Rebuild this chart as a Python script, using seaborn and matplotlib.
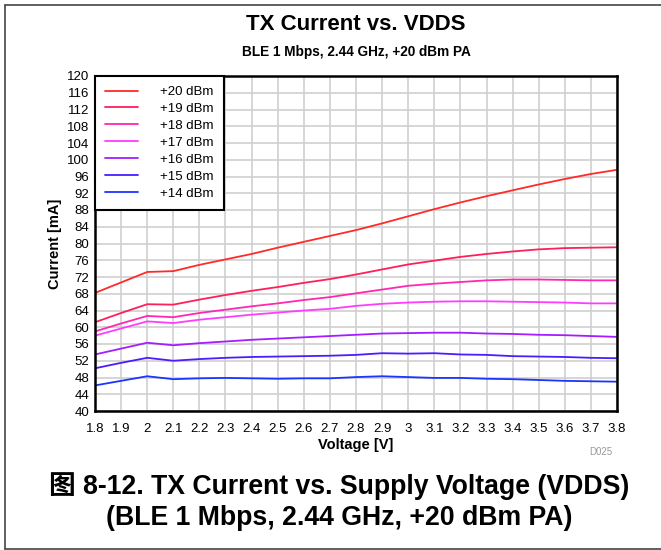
import matplotlib
matplotlib.use("Agg")
import matplotlib.pyplot as plt
from matplotlib.lines import Line2D
import numpy as np
import pandas as pd
import seaborn as sns

# ---- data ----
voltage = [1.8, 1.9, 2.0, 2.1, 2.2, 2.3, 2.4, 2.5, 2.6, 2.7, 2.8,
           2.9, 3.0, 3.1, 3.2, 3.3, 3.4, 3.5, 3.6, 3.7, 3.8]

p20 = [68.2, 70.7, 73.2, 73.4, 74.9, 76.2, 77.5, 79.0, 80.4, 81.8, 83.2,
       84.8, 86.5, 88.2, 89.8, 91.3, 92.7, 94.1, 95.4, 96.6, 97.6]
p19 = [61.2, 63.4, 65.5, 65.4, 66.6, 67.7, 68.7, 69.6, 70.6, 71.5, 72.6,
       73.8, 75.0, 75.9, 76.8, 77.5, 78.1, 78.6, 78.9, 79.0, 79.1]
p18 = [59.0, 60.9, 62.7, 62.4, 63.4, 64.2, 65.0, 65.7, 66.5, 67.2, 68.1,
       69.0, 69.9, 70.4, 70.8, 71.2, 71.4, 71.4, 71.3, 71.2, 71.2]
p17 = [58.0, 59.7, 61.4, 61.0, 61.8, 62.4, 63.0, 63.5, 64.0, 64.4, 65.1,
       65.6, 65.9, 66.1, 66.2, 66.2, 66.1, 66.0, 65.9, 65.7, 65.7]
p16 = [53.5, 54.9, 56.3, 55.7, 56.2, 56.6, 57.0, 57.3, 57.6, 57.9, 58.2,
       58.5, 58.6, 58.7, 58.7, 58.5, 58.4, 58.2, 58.1, 57.9, 57.7]
p15 = [50.2, 51.5, 52.7, 52.0, 52.4, 52.7, 52.9, 53.0, 53.1, 53.2, 53.4,
       53.8, 53.7, 53.8, 53.5, 53.4, 53.1, 53.0, 52.9, 52.7, 52.6]
p14 = [46.1, 47.2, 48.3, 47.6, 47.8, 47.9, 47.8, 47.7, 47.8, 47.8, 48.1,
       48.3, 48.1, 47.9, 47.9, 47.7, 47.6, 47.4, 47.2, 47.1, 47.0]

series_names = ["+20 dBm", "+19 dBm", "+18 dBm", "+17 dBm",
                "+16 dBm", "+15 dBm", "+14 dBm"]
series_vals = [p20, p19, p18, p17, p16, p15, p14]
colors = ["#ff2a2a", "#ff1f5a", "#ff28b0", "#ff3cff",
          "#a41cff", "#4a1cff", "#1c34ff"]

x_ticks = voltage
y_ticks = list(range(40, 121, 4))

df = pd.concat(
    [pd.DataFrame({"Voltage": voltage, "Current": v, "Power": n})
     for n, v in zip(series_names, series_vals)],
    ignore_index=True)

sns.set_theme(style="white")
plt.rcParams["font.family"] = ["Liberation Sans", "Noto Sans CJK SC", "DejaVu Sans"]
plt.rcParams["text.color"] = "black"
plt.rcParams["axes.labelcolor"] = "black"

fig = plt.figure(figsize=(6.61, 5.5), dpi=100)
ax = fig.add_axes([95 / 661, 1 - 411 / 550, (617 - 95) / 661, (411 - 76) / 550])

sns.lineplot(data=df, x="Voltage", y="Current", hue="Power",
             hue_order=series_names, palette=dict(zip(series_names, colors)),
             linewidth=1.3, ax=ax)

ax.set_xlim(1.8, 3.8)
ax.set_ylim(40, 120)
ax.set_xticks(x_ticks)
ax.set_xticklabels([f"{v:g}" for v in x_ticks])
ax.set_yticks(y_ticks)
ax.tick_params(axis="both", length=0, labelsize=9.5, colors="black")
ax.tick_params(axis="x", pad=9)
ax.tick_params(axis="y", pad=4)
ax.grid(True, color="#cfcfcf", linewidth=1.2)
ax.set_axisbelow(True)
for s in ax.spines.values():
    s.set_color("black")
    s.set_linewidth(1.8)

ax.set_xlabel("Voltage [V]", fontsize=10.5, fontweight="bold", labelpad=2)
ax.set_ylabel("Current [mA]", fontsize=10.5, fontweight="bold", labelpad=4)

leg = ax.legend(loc="upper left", fontsize=9.5, frameon=True, fancybox=False,
                edgecolor="black", framealpha=1, handlelength=2.5,
                handletextpad=1.7, labelspacing=0.36, borderaxespad=0,
                borderpad=0.75)
leg.get_frame().set_linewidth(1.5)
leg.set_title(None)

fig.text(356 / 661, 1 - 25 / 550, "TX Current vs. VDDS", ha="center",
         va="center", fontsize=16, fontweight="bold")
fig.text(356 / 661, 1 - 52 / 550, "BLE 1 Mbps, 2.44 GHz, +20 dBm PA",
         ha="center", va="center", fontsize=9.8, fontweight="bold")
fig.text(612 / 661, 1 - 452 / 550, "D025", ha="right", va="center",
         fontsize=7, color="#999999")
fig.text(339 / 661, 1 - 486 / 550,
         "图 8-12. TX Current vs. Supply Voltage (VDDS)",
         ha="center", va="center", fontsize=19.2, fontweight="bold")
fig.text(339 / 661, 1 - 518 / 550, "(BLE 1 Mbps, 2.44 GHz, +20 dBm PA)",
         ha="center", va="center", fontsize=19.2, fontweight="bold")

# page frame (top, left, bottom)
for xs, ys in [([5 / 661, 1], [1 - 5 / 550] * 2),
               ([5 / 661] * 2, [1 - 5 / 550, 1 - 549 / 550]),
               ([5 / 661, 1], [1 - 549 / 550] * 2)]:
    fig.add_artist(Line2D(xs, ys, color="#444444", linewidth=1.2))

fig.savefig("out.png", dpi=100)
